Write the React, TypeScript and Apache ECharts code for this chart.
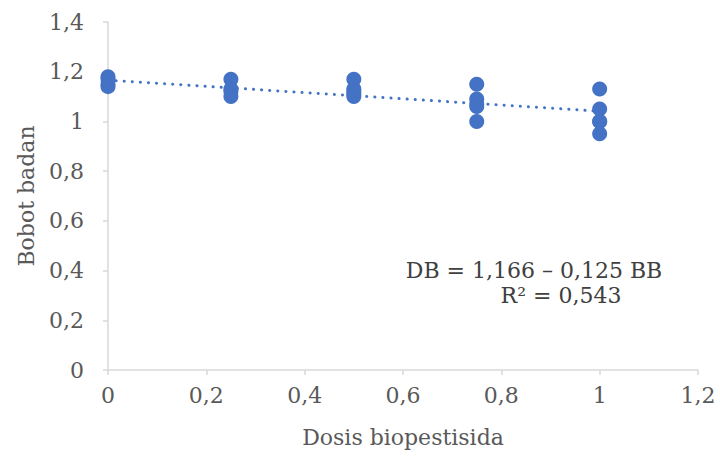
import React, { useEffect, useRef } from "react";
import * as echarts from "echarts";

const xValues: number[] = [0, 0, 0, 0, 0.25, 0.25, 0.25, 0.25, 0.5, 0.5, 0.5, 0.5, 0.5, 0.75, 0.75, 0.75, 0.75, 0.75, 1, 1, 1, 1, 1];
const yValues: number[] = [1.18, 1.17, 1.15, 1.14, 1.17, 1.13, 1.12, 1.1, 1.17, 1.13, 1.12, 1.11, 1.1, 1.15, 1.09, 1.07, 1.06, 1.0, 1.13, 1.05, 1.0, 1.0, 0.95];
const trendIntercept = 1.166;
const trendSlope = -0.125;
const trendRange: number[] = [0, 1];
const equationText = "DB = 1,166 – 0,125 BB";
const r2Text = "R² = 0,543";
const xAxisTitle = "Dosis biopestisida";
const yAxisTitle = "Bobot badan";

const fmt = (v: number) => String(Math.round(v * 10) / 10).replace(".", ",");

export default function App() {
  const ref = useRef<HTMLDivElement>(null);
  useEffect(() => {
    if (!ref.current) return;
    const chart = echarts.init(ref.current, null, { renderer: "svg" });
    const font = "DejaVu Serif";
    const grey = "#595959";
    const fs = 22;
    const axisLine = { show: true, lineStyle: { color: "#d9d9d9", width: 1.5 } };
    chart.setOption({
      animation: false,
      backgroundColor: "#ffffff",
      textStyle: { fontFamily: font },
      grid: { left: 108, right: 22, top: 22, bottom: 89 },
      xAxis: {
        type: "value",
        min: 0,
        max: 1.2,
        interval: 0.2,
        name: xAxisTitle,
        nameLocation: "middle",
        nameGap: 56,
        nameTextStyle: { fontFamily: font, fontSize: fs, color: grey },
        axisLine,
        axisTick: { show: true, length: 5, lineStyle: { color: "#d9d9d9", width: 1.5 } },
        splitLine: { show: false },
        axisLabel: { formatter: fmt, fontFamily: font, fontSize: fs, color: grey, margin: 14 },
      },
      yAxis: {
        type: "value",
        min: 0,
        max: 1.4,
        interval: 0.2,
        name: yAxisTitle,
        nameLocation: "middle",
        nameGap: 71,
        nameRotate: 90,
        nameTextStyle: { fontFamily: font, fontSize: fs, color: grey },
        axisLine,
        axisTick: { show: true, length: 5, lineStyle: { color: "#d9d9d9", width: 1.5 } },
        splitLine: { show: false },
        axisLabel: { formatter: fmt, fontFamily: font, fontSize: fs, color: grey, margin: 24 },
      },
      series: [
        {
          type: "line",
          data: trendRange.map((x) => [x, trendIntercept + trendSlope * x]),
          showSymbol: false,
          symbol: "none",
          lineStyle: { color: "#4472C4", width: 3, type: [0.1, 8], cap: "round" },
          z: 1,
        },
        {
          type: "scatter",
          data: xValues.map((x, i) => [x, yValues[i]]),
          symbolSize: 15,
          itemStyle: { color: "#4472C4", opacity: 1 },
          z: 2,
        },
      ],
      graphic: [
        {
          type: "text",
          x: 534,
          y: 259,
          style: { text: equationText, fontFamily: font, fontSize: fs, fill: "#404040", align: "center" },
        },
        {
          type: "text",
          x: 561,
          y: 284,
          style: { text: r2Text, fontFamily: font, fontSize: fs, fill: "#404040", align: "center" },
        },
      ],
    });
    return () => chart.dispose();
  }, []);
  return <div ref={ref} style={{ width: 720, height: 459, position: "absolute", left: 0, top: 0 }} />;
}
